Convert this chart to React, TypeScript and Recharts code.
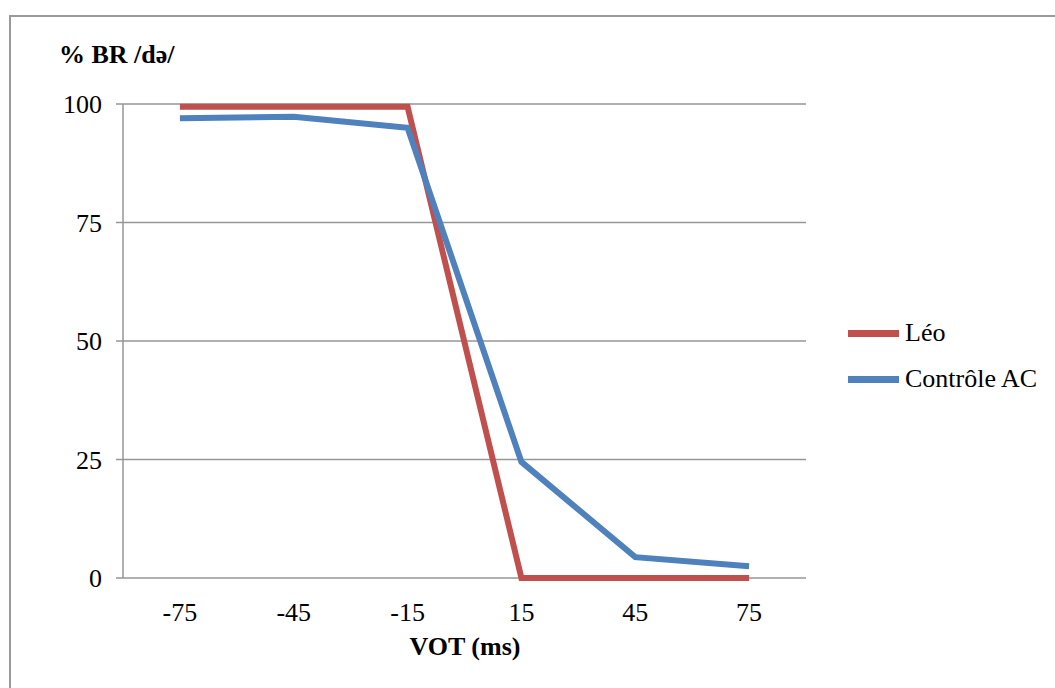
import { LineChart, Line, XAxis, YAxis, CartesianGrid, Legend, Label } from 'recharts';

const vot = [-75, -45, -15, 15, 45, 75];
const leo = [99.4, 99.4, 99.4, 0, 0, 0];
const controleAC = [97.0, 97.3, 95.0, 24.5, 4.4, 2.5];
const seriesNames = ['Léo', 'Contrôle AC'];
const yTicks = [0, 25, 50, 75, 100];
const boundaryTicks = [-90, -60, -30, 0, 30, 60, 90];

const data = vot.map((v, i) => ({ vot: v, leo: leo[i], controle: controleAC[i] }));

const FONT = 'Times New Roman, Liberation Serif, Times, serif';
const GRAY = '#969696';

function LegendBox(props: any) {
  const items = [...(props.payload || [])].sort(
    (a: any, b: any) => seriesNames.indexOf(a.value) - seriesNames.indexOf(b.value)
  );
  return (
    <div style={{ fontFamily: FONT, fontSize: 26, color: '#000' }}>
      {items.map((it: any) => (
        <div key={it.value} style={{ display: 'flex', alignItems: 'center', height: 46, lineHeight: '46px' }}>
          <div style={{ width: 51, height: 7, background: it.color, marginRight: 6 }} />
          <span style={{ whiteSpace: 'nowrap' }}>{it.value}</span>
        </div>
      ))}
    </div>
  );
}

export default function App() {
  return (
    <div style={{ position: 'absolute', left: 0, top: 0, width: 1055, height: 688, background: '#fff', overflow: 'hidden', fontFamily: FONT }}>
      <div
        style={{
          position: 'absolute',
          left: 9,
          top: 15,
          width: 1100,
          height: 700,
          borderTop: '2px solid #9a9a9a',
          borderLeft: '2px solid #9a9a9a',
        }}
      />
      <div style={{ position: 'absolute', left: 0, top: 0 }}>
        <LineChart width={1055} height={688} data={data} margin={{ top: 104, right: 249, bottom: 70, left: 73 }}>
          <CartesianGrid xAxisId="lbl" vertical={false} stroke={GRAY} strokeWidth={1.5} />
          <XAxis
            xAxisId="ticks"
            dataKey="vot"
            type="number"
            domain={[-90, 90]}
            ticks={boundaryTicks}
            tick={false}
            height={0}
            tickSize={8}
            stroke={GRAY}
            strokeWidth={1.5}
          />
          <XAxis
            xAxisId="lbl"
            dataKey="vot"
            type="number"
            domain={[-90, 90]}
            ticks={vot}
            height={40}
            axisLine={false}
            tickLine={false}
            tickSize={8}
            tickMargin={17}
            tick={{ fontFamily: FONT, fontSize: 26, fill: '#000' }}
            interval={0}
          >
            <Label
              content={() => (
                <text x={465} y={655} textAnchor="middle" fontFamily={FONT} fontSize={26} fontWeight="bold" fill="#000">
                  VOT (ms)
                </text>
              )}
            />
          </XAxis>
          <YAxis
            domain={[0, 100]}
            ticks={yTicks}
            width={50}
            tickSize={7}
            tickMargin={14}
            stroke={GRAY}
            strokeWidth={1.5}
            tick={{ fontFamily: FONT, fontSize: 26, fill: '#000' }}
            interval={0}
          >
            <Label
              content={() => (
                <text x={59} y={63} textAnchor="start" fontFamily={FONT} fontSize={26} fontWeight="bold" fill="#000">
                  % BR /də/
                </text>
              )}
            />
          </YAxis>
          <Legend
            layout="vertical"
            align="center"
            verticalAlign="middle"
            content={LegendBox}
            wrapperStyle={{ left: 848, top: 310, width: 200 }}
          />
          <Line
            xAxisId="lbl"
            name="Léo"
            dataKey="leo"
            type="linear"
            stroke="#C0504D"
            strokeWidth={6}
            dot={false}
            isAnimationActive={false}
          />
          <Line
            xAxisId="lbl"
            name="Contrôle AC"
            dataKey="controle"
            type="linear"
            stroke="#4F81BD"
            strokeWidth={6}
            dot={false}
            isAnimationActive={false}
          />
        </LineChart>
      </div>
    </div>
  );
}
